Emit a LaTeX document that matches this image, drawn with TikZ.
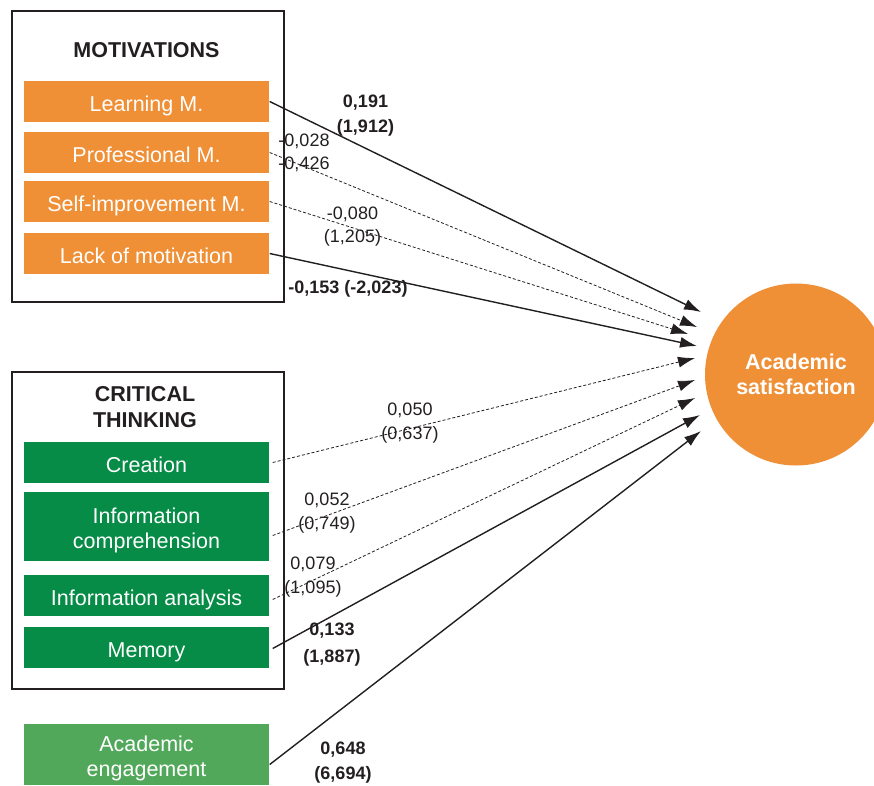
\documentclass[tikz,border=0pt]{standalone}
\usepackage{fontspec}
\setmainfont{Liberation Sans}
\usetikzlibrary{arrows.meta}
\definecolor{motorange}{RGB}{239,143,54}
\definecolor{thinkgreen}{RGB}{6,140,70}
\definecolor{engagegreen}{RGB}{82,168,90}
\definecolor{inkgray}{RGB}{35,31,32}

\begin{document}
\begin{tikzpicture}[x=1pt, y=-1pt, line width=1.4pt,
  frame/.style={draw=inkgray, line width=1.5pt, inner sep=0pt},
  heading/.style={text=inkgray, font=\fontsize{21.5}{26}\selectfont\bfseries, align=center},
  item/.style={minimum width=245pt, minimum height=41pt, inner sep=0pt, text=white,
    font=\fontsize{21.5}{25}\selectfont, align=center, text height=20pt, text depth=1pt},
  twoline/.style={text height=45pt},
  coef/.style={text=inkgray, font=\fontsize{18}{24}\selectfont, align=center, inner sep=0pt,
    text height=13pt, text depth=0pt},
  strong/.style={coef, font=\fontsize{18}{25}\selectfont\bfseries},
  path/.style={draw=inkgray, line width=1.4pt, -{Latex[length=17pt,width=11pt]}},
  nspath/.style={path, line width=0.8pt, dash pattern=on 3pt off 2pt}]
  \useasboundingbox (0,0) rectangle (874,785);
  % group frames
  \node[frame, minimum width=272pt, minimum height=291pt] (motframe) at (148,156.5) {};
  \node[frame, minimum width=272pt, minimum height=317pt] (ctframe) at (148,530.5) {};
  \node[heading] (mottitle) at (146.5,50) {MOTIVATIONS};
  \node[heading] (cttitle) at (145,407) {CRITICAL\\THINKING};
  % predictors
  \node[item, fill=motorange] (learn) at (146.5,101.5) {Learning M.};
  \node[item, fill=motorange] (prof) at (146.5,152.5) {Professional M.};
  \node[item, fill=motorange] (self) at (146.5,201.5) {Self-improvement M.};
  \node[item, fill=motorange] (lack) at (146.5,253.5) {Lack of motivation};
  \node[item, fill=thinkgreen] (crea) at (146.5,462.5) {Creation};
  \node[item, twoline, fill=thinkgreen, minimum height=69pt] (compr) at (146.5,526.5) {Information\\comprehension};
  \node[item, fill=thinkgreen] (anal) at (146.5,595.5) {Information analysis};
  \node[item, fill=thinkgreen] (mem) at (146.5,647.5) {Memory};
  \node[item, twoline, fill=engagegreen, minimum height=61pt] (engage) at (146.5,754.5) {Academic\\engagement};
  % outcome
  \node[circle, fill=motorange, minimum size=182pt, inner sep=0pt, text=white,
    font=\fontsize{21.5}{25}\selectfont\bfseries, align=center] (sat) at (796,374.5) {Academic\\satisfaction};
  % arrow tips
  \coordinate (t1) at (701,312);
  \coordinate (t2) at (697,327);
  \coordinate (t3) at (688,334);
  \coordinate (t4) at (697,346);
  \coordinate (t5) at (695,358);
  \coordinate (t6) at (695,380);
  \coordinate (t7) at (695,398);
  \coordinate (t8) at (700,415);
  \coordinate (t9) at (701,431);
  % paths
  \draw[path] (learn.east) -- (t1);
  \draw[nspath] (prof.east) -- (t2);
  \draw[nspath] (self.east) -- (t3);
  \draw[path] (lack.east) -- (t4);
  \draw[nspath] ([xshift=3pt]crea.east) -- (t5);
  \draw[nspath] ([xshift=3pt,yshift=-9pt]compr.east) -- (t6);
  \draw[nspath] ([xshift=3pt,yshift=-4pt]anal.east) -- (t7);
  \draw[path] ([xshift=3pt,yshift=-1pt]mem.east) -- (t8);
  \draw[path] ([yshift=-10pt]engage.east) -- (t9);
  % coefficients
  \node[strong, text height=38pt] (c1) at (365.5,113) {0,191\\(1,912)};
  \node[coef, font=\fontsize{18}{23}\selectfont, text height=36pt] (c2) at (304,151.5) {-0,028\\-0,426};
  \node[coef, font=\fontsize{18}{23}\selectfont, text height=36pt] (c3) at (352.5,224.5) {-0,080\\(1,205)};
  \node[strong] (c4) at (348,287) {-0,153 (-2,023)};
  \node[coef, text height=37pt] (c5) at (410,421) {0,050\\(0,637)};
  \node[coef, text height=37pt] (c6) at (327,511) {0,052\\(0,749)};
  \node[coef, text height=37pt] (c7) at (313,575) {0,079\\(1,095)};
  \node[strong, font=\fontsize{18}{27}\selectfont\bfseries, text height=40pt] (c8) at (332,642.5) {0,133\\(1,887)};
  \node[strong, text height=38pt] (c9) at (343,760.5) {0,648\\(6,694)};
\end{tikzpicture}
\end{document}
